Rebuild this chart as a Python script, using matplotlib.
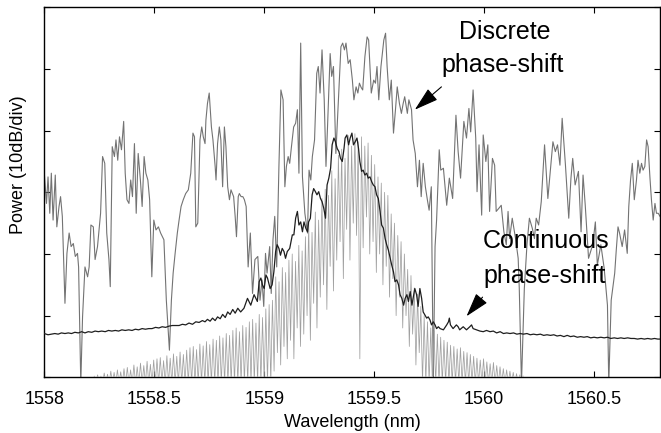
import numpy as np
import matplotlib
matplotlib.use("Agg")
import matplotlib.pyplot as plt

plt.rcParams['font.family'] = ['Liberation Sans', 'DejaVu Sans']

# ---------------- data ----------------
# Discrete phase-shift spectrum (wavelength nm, power dB relative)
disc_wl = [
    1558.000, 1558.010, 1558.017, 1558.025, 1558.032, 1558.040, 1558.050, 1558.057, 1558.067, 1558.074,
    1558.082, 1558.094, 1558.103, 1558.113, 1558.122, 1558.132, 1558.141, 1558.151, 1558.156, 1558.166,
    1558.174, 1558.185, 1558.197, 1558.204, 1558.212, 1558.223, 1558.231, 1558.242, 1558.256, 1558.265,
    1558.275, 1558.284, 1558.294, 1558.300, 1558.309, 1558.319, 1558.326, 1558.334, 1558.342, 1558.351,
    1558.361, 1558.368, 1558.376, 1558.385, 1558.393, 1558.401, 1558.410, 1558.418, 1558.427, 1558.437,
    1558.445, 1558.454, 1558.462, 1558.471, 1558.479, 1558.489, 1558.498, 1558.508, 1558.519, 1558.529,
    1558.544, 1558.555, 1558.569, 1558.578, 1558.586, 1558.595, 1558.605, 1558.613, 1558.622, 1558.632,
    1558.643, 1558.655, 1558.666, 1558.676, 1558.683, 1558.689, 1558.698, 1558.708, 1558.716, 1558.723,
    1558.731, 1558.735, 1558.742, 1558.750, 1558.760, 1558.767, 1558.777, 1558.781, 1558.788, 1558.796,
    1558.803, 1558.811, 1558.819, 1558.826, 1558.834, 1558.842, 1558.849, 1558.861, 1558.868, 1558.874,
    1558.882, 1558.887, 1558.895, 1558.903, 1558.910, 1558.918, 1558.927, 1558.937, 1558.947, 1558.958,
    1558.971, 1558.981, 1558.990, 1558.998, 1559.006, 1559.013, 1559.025, 1559.032, 1559.040, 1559.048,
    1559.057, 1559.067, 1559.076, 1559.086, 1559.094, 1559.101, 1559.109, 1559.116, 1559.124, 1559.134,
    1559.143, 1559.151, 1559.158, 1559.166, 1559.174, 1559.185, 1559.197, 1559.204, 1559.212, 1559.219,
    1559.229, 1559.239, 1559.246, 1559.254, 1559.263, 1559.273, 1559.281, 1559.288, 1559.300, 1559.307,
    1559.315, 1559.326, 1559.338, 1559.349, 1559.357, 1559.365, 1559.372, 1559.382, 1559.391, 1559.401,
    1559.408, 1559.418, 1559.426, 1559.433, 1559.441, 1559.448, 1559.458, 1559.468, 1559.475, 1559.487,
    1559.498, 1559.506, 1559.513, 1559.521, 1559.531, 1559.544, 1559.552, 1559.559, 1559.569, 1559.578,
    1559.588, 1559.597, 1559.605, 1559.615, 1559.624, 1559.632, 1559.639, 1559.651, 1559.658, 1559.670,
    1559.677, 1559.687, 1559.697, 1559.706, 1559.714, 1559.723, 1559.733, 1559.742, 1559.750, 1559.760,
    1559.769, 1559.777, 1559.784, 1559.796, 1559.803, 1559.815, 1559.830, 1559.842, 1559.857, 1559.872,
    1559.882, 1559.893, 1559.908, 1559.920, 1559.931, 1559.939, 1559.950, 1559.962, 1559.968, 1559.977,
    1559.989, 1559.996, 1560.008, 1560.017, 1560.025, 1560.038, 1560.048, 1560.055, 1560.067, 1560.078,
    1560.090, 1560.101, 1560.109, 1560.116, 1560.128, 1560.143, 1560.155, 1560.160, 1560.170, 1560.183,
    1560.195, 1560.206, 1560.219, 1560.229, 1560.237, 1560.248, 1560.260, 1560.275, 1560.290, 1560.313,
    1560.324, 1560.334, 1560.345, 1560.355, 1560.370, 1560.385, 1560.395, 1560.403, 1560.414, 1560.429,
    1560.441, 1560.450, 1560.460, 1560.475, 1560.494, 1560.506, 1560.515, 1560.531, 1560.546, 1560.561,
    1560.567, 1560.578, 1560.586, 1560.594, 1560.601, 1560.609, 1560.616, 1560.628, 1560.639, 1560.651,
    1560.658, 1560.666, 1560.674, 1560.683, 1560.693, 1560.700, 1560.708, 1560.716, 1560.723, 1560.731,
    1560.739, 1560.746, 1560.754, 1560.761, 1560.769, 1560.777, 1560.784, 1560.792, 1560.800,
]
disc_db = [
    -26.9, -31.8, -27.5, -33.4, -26.9, -34.5, -27.2, -35.6, -32.3, -30.7,
    -33.9, -48.0, -39.9, -36.6, -38.8, -38.3, -40.4, -39.9, -42.1, -61.0,
    -50.2, -42.1, -43.7, -42.1, -35.3, -35.6, -40.9, -38.8, -33.4, -24.2,
    -25.3, -36.6, -40.9, -45.3, -22.6, -24.2, -21.5, -24.8, -21.0, -23.1,
    -18.5, -26.9, -31.2, -31.8, -28.0, -30.7, -22.1, -33.4, -23.7, -28.0,
    -32.3, -24.2, -26.9, -28.0, -31.2, -43.7, -34.5, -36.1, -35.6, -36.6,
    -37.7, -47.5, -55.6, -47.5, -43.1, -39.9, -36.6, -34.5, -32.3, -31.2,
    -30.2, -29.6, -26.9, -20.4, -21.0, -35.6, -35.0, -21.5, -19.4, -21.0,
    -22.1, -18.3, -15.6, -13.9, -19.4, -21.5, -25.8, -28.0, -22.1, -19.4,
    -21.5, -29.1, -19.4, -22.6, -29.1, -31.2, -29.6, -30.7, -33.9, -37.2,
    -30.7, -30.2, -30.7, -30.7, -31.2, -32.3, -42.1, -36.6, -46.4, -40.9,
    -40.4, -47.5, -44.2, -48.5, -39.9, -43.1, -38.8, -46.4, -37.7, -33.9,
    -42.1, -25.8, -13.4, -15.0, -29.1, -25.8, -24.2, -25.3, -22.6, -19.4,
    -18.8, -16.6, -26.9, -5.8, -27.5, -33.4, -36.6, -26.4, -28.0, -24.2,
    -21.5, -10.7, -9.6, -13.9, -6.9, -15.0, -25.8, -19.4, -7.5, -11.2,
    -9.6, -23.7, -14.5, -6.4, -5.8, -6.9, -5.8, -9.1, -8.5, -11.8,
    -15.0, -12.9, -13.9, -12.3, -13.0, -13.4, -8.0, -4.8, -5.3, -13.9,
    -11.8, -12.3, -9.6, -15.0, -9.6, -5.3, -4.2, -9.6, -15.0, -11.8,
    -20.4, -16.6, -12.9, -15.6, -17.2, -15.6, -14.5, -17.2, -15.0, -16.6,
    -21.5, -23.7, -29.1, -24.8, -30.7, -25.3, -29.1, -31.2, -32.9, -29.1,
    -61.0, -38.8, -34.5, -23.1, -26.4, -26.1, -32.1, -27.7, -31.0, -17.5,
    -23.4, -27.7, -18.5, -21.2, -16.4, -20.2, -13.4, -21.2, -29.9, -22.3,
    -33.7, -20.7, -25.0, -22.3, -33.1, -24.5, -25.6, -33.1, -32.6, -32.1,
    -36.4, -38.5, -33.1, -37.5, -34.2, -37.5, -40.7, -45.6, -61.0, -45.6,
    -38.5, -34.2, -35.8, -37.5, -34.2, -35.3, -31.5, -22.3, -31.0, -21.8,
    -23.4, -22.3, -25.6, -18.0, -25.6, -34.2, -27.7, -24.5, -28.8, -26.6,
    -36.4, -27.2, -32.1, -40.7, -38.5, -34.8, -41.8, -38.5, -42.3, -48.3,
    -61.0, -47.5, -45.3, -43.1, -39.4, -35.6, -36.6, -38.8, -36.1, -39.9,
    -32.3, -28.0, -25.3, -31.2, -28.0, -24.8, -26.9, -25.3, -26.4, -25.8,
    -21.5, -22.6, -27.5, -31.2, -34.5, -31.8, -33.4, -33.4, -33.9,
]

# Continuous phase-shift spectrum
cont_wl = [
    1558.000, 1558.017, 1558.032, 1558.048, 1558.063, 1558.078, 1558.094, 1558.109, 1558.124, 1558.139,
    1558.155, 1558.170, 1558.185, 1558.200, 1558.216, 1558.231, 1558.246, 1558.261, 1558.277, 1558.292,
    1558.307, 1558.323, 1558.338, 1558.353, 1558.368, 1558.384, 1558.399, 1558.414, 1558.429, 1558.445,
    1558.460, 1558.475, 1558.490, 1558.506, 1558.521, 1558.536, 1558.552, 1558.567, 1558.582, 1558.597,
    1558.613, 1558.628, 1558.643, 1558.658, 1558.674, 1558.689, 1558.704, 1558.719, 1558.731, 1558.742,
    1558.754, 1558.765, 1558.777, 1558.788, 1558.800, 1558.811, 1558.823, 1558.834, 1558.845, 1558.857,
    1558.868, 1558.880, 1558.893, 1558.908, 1558.924, 1558.939, 1558.954, 1558.969, 1558.977, 1558.985,
    1558.992, 1559.000, 1559.008, 1559.015, 1559.027, 1559.036, 1559.044, 1559.052, 1559.059, 1559.067,
    1559.074, 1559.082, 1559.090, 1559.097, 1559.105, 1559.116, 1559.128, 1559.135, 1559.143, 1559.151,
    1559.158, 1559.166, 1559.174, 1559.181, 1559.189, 1559.197, 1559.202, 1559.210, 1559.218, 1559.225,
    1559.233, 1559.240, 1559.248, 1559.256, 1559.263, 1559.271, 1559.279, 1559.286, 1559.294, 1559.302,
    1559.309, 1559.317, 1559.324, 1559.332, 1559.340, 1559.347, 1559.355, 1559.363, 1559.368, 1559.376,
    1559.384, 1559.391, 1559.399, 1559.406, 1559.414, 1559.422, 1559.429, 1559.435, 1559.443, 1559.450,
    1559.458, 1559.466, 1559.473, 1559.481, 1559.489, 1559.496, 1559.504, 1559.511, 1559.519, 1559.527,
    1559.534, 1559.542, 1559.550, 1559.557, 1559.565, 1559.573, 1559.580, 1559.588, 1559.595, 1559.603,
    1559.611, 1559.618, 1559.626, 1559.634, 1559.641, 1559.649, 1559.656, 1559.664, 1559.672, 1559.677,
    1559.685, 1559.693, 1559.700, 1559.708, 1559.716, 1559.723, 1559.731, 1559.739, 1559.746, 1559.754,
    1559.761, 1559.769, 1559.777, 1559.784, 1559.792, 1559.800, 1559.815, 1559.830, 1559.838, 1559.842,
    1559.847, 1559.859, 1559.874, 1559.882, 1559.889, 1559.905, 1559.920, 1559.935, 1559.943, 1559.950,
    1559.966, 1559.981, 1559.996, 1560.011, 1560.027, 1560.042, 1560.057, 1560.073, 1560.088, 1560.103,
    1560.118, 1560.134, 1560.149, 1560.164, 1560.179, 1560.195, 1560.210, 1560.225, 1560.240, 1560.256,
    1560.271, 1560.286, 1560.302, 1560.317, 1560.332, 1560.347, 1560.363, 1560.378, 1560.393, 1560.408,
    1560.424, 1560.439, 1560.454, 1560.469, 1560.485, 1560.500, 1560.515, 1560.531, 1560.546, 1560.561,
    1560.576, 1560.592, 1560.607, 1560.622, 1560.637, 1560.653, 1560.668, 1560.683, 1560.698, 1560.714,
    1560.729, 1560.744, 1560.760, 1560.775, 1560.790, 1560.800,
]
cont_db = [
    -52.9, -53.1, -53.0, -52.9, -53.0, -52.8, -52.9, -52.8, -52.9, -52.7,
    -52.8, -52.6, -52.8, -52.6, -52.7, -52.5, -52.6, -52.5, -52.6, -52.4,
    -52.5, -52.4, -52.5, -52.3, -52.4, -52.3, -52.4, -52.2, -52.3, -52.1,
    -52.2, -52.1, -52.1, -51.9, -52.0, -51.8, -51.9, -51.7, -51.6, -51.6,
    -51.6, -51.4, -51.5, -51.2, -51.4, -51.0, -51.1, -50.8, -51.0, -50.6,
    -50.9, -50.4, -50.8, -50.2, -50.5, -49.8, -50.3, -49.4, -49.8, -49.0,
    -49.6, -48.8, -49.4, -48.8, -47.2, -48.3, -46.6, -47.7, -44.5, -43.9,
    -45.0, -45.6, -43.4, -43.9, -45.6, -45.0, -42.9, -39.6, -38.5, -39.1,
    -40.2, -39.1, -39.6, -40.7, -39.6, -39.1, -36.9, -36.9, -34.2, -33.1,
    -35.3, -34.8, -36.4, -34.8, -35.8, -36.4, -34.8, -34.2, -30.4, -29.4,
    -29.9, -30.4, -29.9, -31.0, -31.5, -32.6, -34.2, -28.8, -27.7, -26.1,
    -22.3, -21.2, -21.8, -22.9, -23.4, -24.5, -25.0, -22.9, -21.2, -20.7,
    -22.3, -21.2, -20.4, -22.3, -21.8, -21.2, -22.9, -25.0, -26.6, -26.4,
    -27.2, -26.9, -27.7, -27.5, -28.3, -28.8, -29.1, -30.4, -31.0, -33.1,
    -35.3, -35.8, -37.5, -38.5, -39.4, -40.7, -41.8, -42.9, -44.5, -44.2,
    -45.0, -46.6, -47.2, -48.3, -47.2, -46.6, -47.7, -46.1, -48.3, -47.2,
    -45.6, -46.6, -48.5, -45.6, -47.2, -49.4, -49.9, -50.4, -50.2, -50.7,
    -51.5, -51.0, -51.5, -52.1, -51.8, -52.1, -52.3, -51.5, -51.0, -50.4,
    -51.5, -52.1, -51.5, -51.8, -52.3, -51.8, -52.3, -51.8, -51.5, -52.1,
    -52.3, -52.5, -52.6, -52.4, -52.6, -52.5, -52.8, -52.6, -52.9, -52.8,
    -52.9, -52.8, -53.0, -52.9, -53.0, -52.9, -53.1, -53.0, -53.1, -53.0,
    -53.2, -53.1, -53.2, -53.1, -53.3, -53.2, -53.4, -53.2, -53.4, -53.3,
    -53.5, -53.4, -53.5, -53.4, -53.6, -53.5, -53.6, -53.5, -53.6, -53.5,
    -53.7, -53.6, -53.7, -53.6, -53.7, -53.6, -53.7, -53.7, -53.8, -53.7,
    -53.8, -53.7, -53.8, -53.7, -53.8, -53.8,
]

# Fine fringe trace (light grey): alternating trough / peak levels (dB)
fringe_start, fringe_stop = 1558.22, 1560.1775
fringe_troughs = (
    [-61.0] * 55
    + [-59.0, -56.0, -58.0, -55.0, -57.0, -54.0, -57.0, -52.0, -55.0, -53.0,
       -50.0, -54.0, -48.0, -52.0, -47.0, -45.0, -49.0, -42.0, -46.0, -41.0,
       -38.0, -44.0, -36.0, -41.0, -35.0, -37.0, -57.0, -39.0, -34.0, -40.0,
       -38.0, -43.0, -40.0, -45.0, -42.0, -47.0, -44.0, -50.0, -47.0, -52.0,
       -50.0, -55.0, -53.0, -58.0, -56.0]
    + [-61.0] * 31
)
fringe_peaks = [
    -59.8, -59.6, -59.8, -59.3, -59.5, -59.0, -59.2, -58.8, -59.1, -58.6,
    -58.4, -58.8, -58.0, -58.3, -57.7, -58.1, -57.4, -57.9, -57.2, -57.0,
    -56.8, -57.3, -56.5, -56.9, -56.2, -56.6, -55.9, -56.3, -55.6, -55.2,
    -55.0, -55.5, -54.6, -54.9, -54.2, -54.7, -53.8, -54.0, -53.3, -53.6,
    -52.9, -53.2, -52.4, -52.0, -52.6, -51.6, -51.9, -51.0, -50.6, -51.2,
    -49.8, -50.3, -48.9, -48.2, -47.5, -43.7, -44.5, -42.2, -43.0, -41.0,
    -40.0, -41.2, -38.6, -39.5, -37.2, -35.0, -36.5, -33.2, -34.5, -31.0,
    -29.5, -30.5, -26.5, -27.8, -24.0, -23.0, -24.5, -20.8, -22.5, -20.5,
    -21.8, -21.0, -22.5, -22.0, -24.0, -25.5, -27.5, -28.5, -30.0, -30.5,
    -33.5, -35.0, -37.0, -38.0, -40.0, -42.5, -43.5, -45.5, -46.5, -48.5,
    -50.0, -51.0, -52.0, -52.5, -53.0, -53.5, -54.0, -54.3, -54.8, -55.0,
    -55.4, -55.2, -55.8, -56.0, -56.3, -56.6, -56.9, -57.2, -57.0, -57.5,
    -57.8, -57.6, -58.1, -58.3, -58.6, -58.8, -59.0, -59.2, -59.4, -59.6,
    -59.8,
]

xticks = [1558.0, 1558.5, 1559.0, 1559.5, 1560.0, 1560.5]
xtick_labels = ['1558', '1558.5', '1559', '1559.5', '1560', '1560.5']
yticks = [-60, -50, -40, -30, -20, -10, 0]

# ---------------- figure ----------------
fig = plt.figure(figsize=(6.61, 4.33), dpi=100)
ax = fig.add_axes([0.0670, 0.1286, 0.9315, 0.8545])

fringe_db = np.empty(2 * len(fringe_peaks))
fringe_db[0::2] = fringe_troughs
fringe_db[1::2] = fringe_peaks
fringe_wl = np.linspace(fringe_start, fringe_stop, len(fringe_db))

ax.plot(disc_wl, disc_db, color='#737373', lw=0.8, zorder=2)
ax.plot(fringe_wl, fringe_db, color='#a0a0a0', lw=0.55, zorder=3)
ax.plot(cont_wl, cont_db, color='#1e1e1e', lw=0.9, zorder=4)

ax.set_xlim(1558.0, 1560.80)
ax.set_ylim(-60, 0)
ax.set_xticks(xticks)
ax.set_xticklabels(xtick_labels)
ax.set_yticks(yticks)
ax.set_yticklabels([])
ax.tick_params(direction='in', top=True, right=True, length=4, width=0.8,
               labelsize=13, pad=10)
for s in ax.spines.values():
    s.set_linewidth(1.0)

ax.set_xlabel('Wavelength (nm)', fontsize=13, labelpad=4)
ax.set_ylabel('Power (10dB/div)', fontsize=13)
ax.yaxis.set_label_coords(-0.028, 0.574)

# annotations
ax.text(1560.094, -4.0, 'Discrete', fontsize=18, ha='center', va='center')
ax.text(1560.085, -9.4, 'phase-shift', fontsize=18, ha='center', va='center')
ax.text(1560.283, -37.9, 'Continuous', fontsize=18, ha='center', va='center')
ax.text(1560.274, -43.6, 'phase-shift', fontsize=18, ha='center', va='center')

arrow = dict(arrowstyle='-|>,head_length=1.5,head_width=0.45', color='black',
             lw=0.8, mutation_scale=10, shrinkA=0, shrinkB=0)
ax.annotate('', xy=(1559.685, -16.6), xytext=(1559.806, -12.9), arrowprops=arrow)
ax.annotate('', xy=(1559.920, -50.1), xytext=(1559.993, -47.0), arrowprops=arrow)

fig.savefig('out.png', dpi=100)
